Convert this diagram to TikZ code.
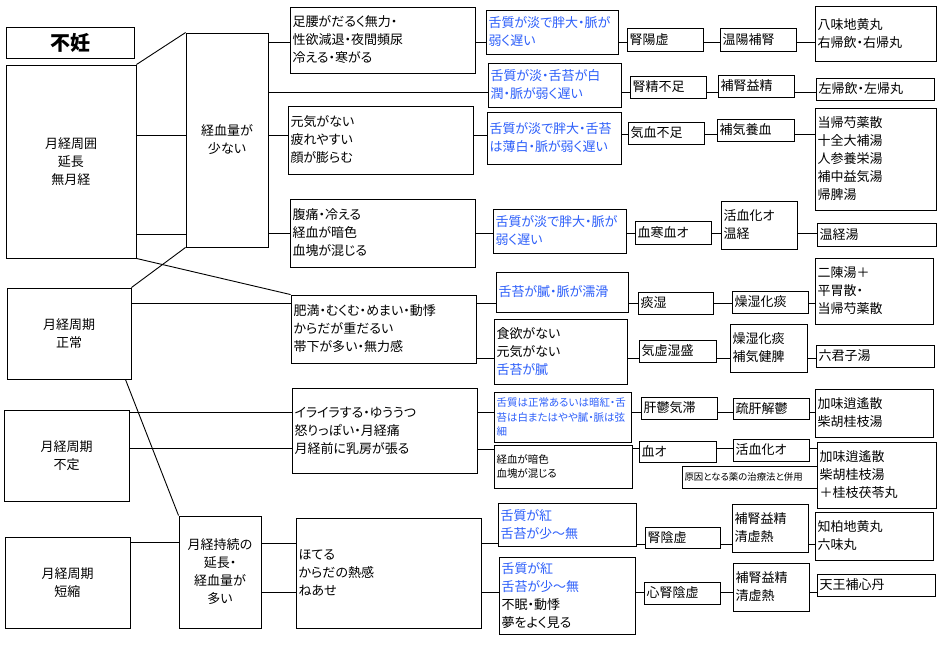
\documentclass[tikz,border=0pt]{standalone}
\usepackage{fontspec}
\setmainfont{Noto Sans CJK JP}[RawFeature=+palt]
\definecolor{tblue}{RGB}{45,95,250}
\newcommand\nrm{\fontsize{13}{18}\selectfont}
\newcommand\sml{\fontsize{10.5}{14.5}\selectfont}
\newcommand\tny{\fontsize{9.4}{12}\selectfont}
\newcommand\bl{\color{tblue}}
\tikzset{
  bx/.style={draw=black,line width=0.9pt,fill=white,inner sep=0pt,font=\nrm,rectangle},
  ln/.style={draw=black,line width=0.9pt}
}
\newcommand\bx[7][]{\node[bx,minimum width={(#5-#3)*1pt},minimum height={(#6-#4)*1pt},#1] (#2) at ({(#3+#5)/2},{(#4+#6)/2}) {\parbox{\dimexpr#5pt-#3pt-5pt\relax}{\raggedright #7}};}
\begin{document}
\begin{tikzpicture}[x=1pt,y=-1pt]
\fill[white] (0,0) rectangle (941,649);
\useasboundingbox (0,0) rectangle (941,649);
% left column
\bx{T}{6}{27}{134}{58}{\centering\fontsize{20}{24}\selectfont\bfseries 不妊}
\bx{L1}{6}{65}{136}{258}{\centering 月経周囲\\延長\\無月経}
\bx{L2}{7}{288}{131}{379}{\centering 月経周期\\正常}
\bx{L3}{4}{410}{129}{501}{\centering 月経周期\\不定}
\bx{L4}{5}{537}{130}{628}{\centering 月経周期\\短縮}
\bx{M1}{186}{33}{268}{247}{\centering 経血量が\\少ない}
\bx{M2}{179}{516}{261}{628}{\centering 月経持続の\\延長・\\経血量が\\多い}
% symptoms
\bx{S1}{290}{7}{475}{73}{足腰がだるく無力・\\性欲減退・夜間頻尿\\冷える・寒がる}
\bx{S2}{288}{106}{473}{174}{元気がない\\疲れやすい\\顔が膨らむ}
\bx{S3}{290}{199}{475}{267}{腹痛・冷える\\経血が暗色\\血塊が混じる}
\bx{S4}{291}{295}{476}{363}{肥満・むくむ・めまい・動悸\\からだが重だるい\\帯下が多い・無力感}
\bx{S5}{292}{388}{477}{473}{イライラする・ゆううつ\\怒りっぽい・月経痛\\月経前に乳房が張る}
\bx{S6}{296}{518}{481}{628}{ほてる\\からだの熱感\\ねあせ}
% tongue / pulse
\bx{B1}{486}{10}{618}{54}{\bl 舌質が淡で胖大・脈が\\弱く遅い}
\bx{B2}{488}{63}{621}{107}{\bl 舌質が淡・舌苔が白\\潤・脈が弱く遅い}
\bx{B3}{487}{112}{621}{164}{\bl 舌質が淡で胖大・舌苔\\は薄白・脈が弱く遅い}
\bx{B4}{493}{209}{626}{253}{\bl 舌質が淡で胖大・脈が\\弱く遅い}
\bx{B5}{496}{272}{628}{312}{\bl 舌苔が膩・脈が濡滑}
\bx{B6}{494}{319}{627}{384}{食欲がない\\元気がない\\\bl 舌苔が膩}
\bx{B7}{494}{392}{631}{442}{\sml\bl 舌質は正常あるいは暗紅・舌\\苔は白またはやや膩・脈は弦\\細}
\bx{B8}{494}{445}{632}{488}{\sml 経血が暗色\\血塊が混じる}
\bx{B9}{498}{503}{636}{546}{\bl 舌質が紅\\舌苔が少～無}
\bx{B10}{499}{557}{635}{634}{\bl 舌質が紅\\\bl 舌苔が少～無\\\color{black}不眠・動悸\\夢をよく見る}
% patterns
\bx{P1}{627}{28}{703}{51}{腎陽虚}
\bx{P2}{630}{76}{706}{98}{腎精不足}
\bx{P3}{628}{122}{704}{144}{気血不足}
\bx{P4}{635}{221}{711}{244}{血寒血オ}
\bx{P5}{638}{292}{713}{314}{痰湿}
\bx{P6}{639}{340}{716}{362}{気虚湿盛}
\bx{P7}{641}{397}{717}{419}{肝鬱気滞}
\bx{P8}{639}{441}{716}{462}{血オ}
\bx{P9}{645}{527}{720}{548}{腎陰虚}
\bx{P10}{644}{582}{720}{604}{心腎陰虚}
% treatments
\bx{R1}{720}{28}{796}{51}{温陽補腎}
\bx{R2}{718}{75}{794}{97}{補腎益精}
\bx{R3}{717}{119}{794}{141}{補気養血}
\bx{R4}{721}{201}{797}{249}{活血化オ\\温経}
\bx{R5}{732}{291}{808}{313}{燥湿化痰}
\bx{R6}{730}{324}{807}{372}{燥湿化痰\\補気健脾}
\bx{R7}{733}{398}{809}{419}{疏肝解鬱}
\bx{R8}{733}{439}{809}{461}{活血化オ}
\bx{R9}{732}{504}{808}{552}{補腎益精\\清虚熱}
\bx{R10}{733}{563}{809}{611}{補腎益精\\清虚熱}
\bx{N}{682}{466}{817}{488}{\tny 原因となる薬の治療法と併用}
% formulas
\bx{F1}{815}{6}{936}{61}{八味地黄丸\\右帰飲・右帰丸}
\bx{F2}{816}{78}{934}{100}{左帰飲・左帰丸}
\bx{F3}{815}{108}{936}{210}{当帰芍薬散\\十全大補湯\\人参養栄湯\\補中益気湯\\帰脾湯}
\bx{F4}{817}{223}{936}{246}{温経湯}
\bx{F5}{815}{258}{933}{324}{二陳湯＋\\平胃散・\\当帰芍薬散}
\bx{F6}{816}{345}{934}{367}{六君子湯}
\bx{F7}{815}{389}{933}{437}{加味逍遙散\\柴胡桂枝湯}
\bx{F8}{817}{442}{936}{508}{加味逍遙散\\柴胡桂枝湯\\＋桂枝茯苓丸}
\bx{F9}{815}{512}{933}{560}{知柏地黄丸\\六味丸}
\bx{F10}{817}{574}{935}{596}{天王補心丹}
% connectors: left part
\draw[ln] (L1.north east) -- (M1.north west);
\draw[ln] (L1.east |- 0,135) -- (M1.west |- 0,135);
\draw[ln] (L1.east |- 0,234) -- (M1.west |- 0,234);
\draw[ln] (L1.south east) -- (S4.north west);
\draw[ln] (L2.north east) -- (M1.south west);
\draw[ln] (L2.east |- 0,303) -- (S4.west |- 0,303);
\draw[ln] ([xshift=-6pt]L2.south east) -- (M2.north west);
\draw[ln] (L3.east |- 0,412) -- (S5.west |- 0,412);
\draw[ln] (L3.east |- 0,448) -- (S5.west |- 0,448);
\draw[ln] (L4.east |- 0,542) -- (M2.west |- 0,542);
\draw[ln] (M1.east |- 0,42) -- (S1.west |- 0,42);
\draw[ln] (M1.east |- 0,92) -- (B2.west |- 0,92);
\draw[ln] (M1.east |- 0,135) -- (S2.west |- 0,135);
\draw[ln] (M1.east |- 0,233) -- (S3.west |- 0,233);
\draw[ln] (M2.east |- 0,543) -- (S6.west |- 0,543);
\draw[ln] (M2.east |- 0,592) -- (S6.west |- 0,592);
% symptoms to tongue
\draw[ln] (S1.east |- 0,42) -- (B1.west |- 0,42);
\draw[ln] (S2.east |- 0,135) -- (B3.west |- 0,135);
\draw[ln] (S3.east |- 0,233) -- (B4.west |- 0,233);
\draw[ln] (S4.east |- 0,303) -- (B5.west |- 0,303);
\draw[ln] (S4.east |- 0,358) -- (B6.west |- 0,358);
\draw[ln] (S5.east |- 0,412) -- (B7.west |- 0,412);
\draw[ln] (S5.east |- 0,449) -- (B8.west |- 0,449);
\draw[ln] (S6.east |- 0,543) -- (B9.west |- 0,543);
\draw[ln] (S6.east |- 0,592) -- (B10.west |- 0,592);
% rows
\foreach \b/\p/\r/\f/\yy in {B1/P1/R1/F1/42, B2/P2/R2/F2/92, B3/P3/R3/F3/134, B4/P4/R4/F4/233, B5/P5/R5/F5/303, B6/P6/R6/F6/358, B7/P7/R7/F7/412, B8/P8/R8/F8/448, B9/P9/R9/F9/544, B10/P10/R10/F10/592}{
  \draw[ln] (\b.east |- 0,\yy) -- (\p.west |- 0,\yy);
  \draw[ln] (\p.east |- 0,\yy) -- (\r.west |- 0,\yy);
  \draw[ln] (\r.east |- 0,\yy) -- (\f.west |- 0,\yy);
}
\end{tikzpicture}
\end{document}
